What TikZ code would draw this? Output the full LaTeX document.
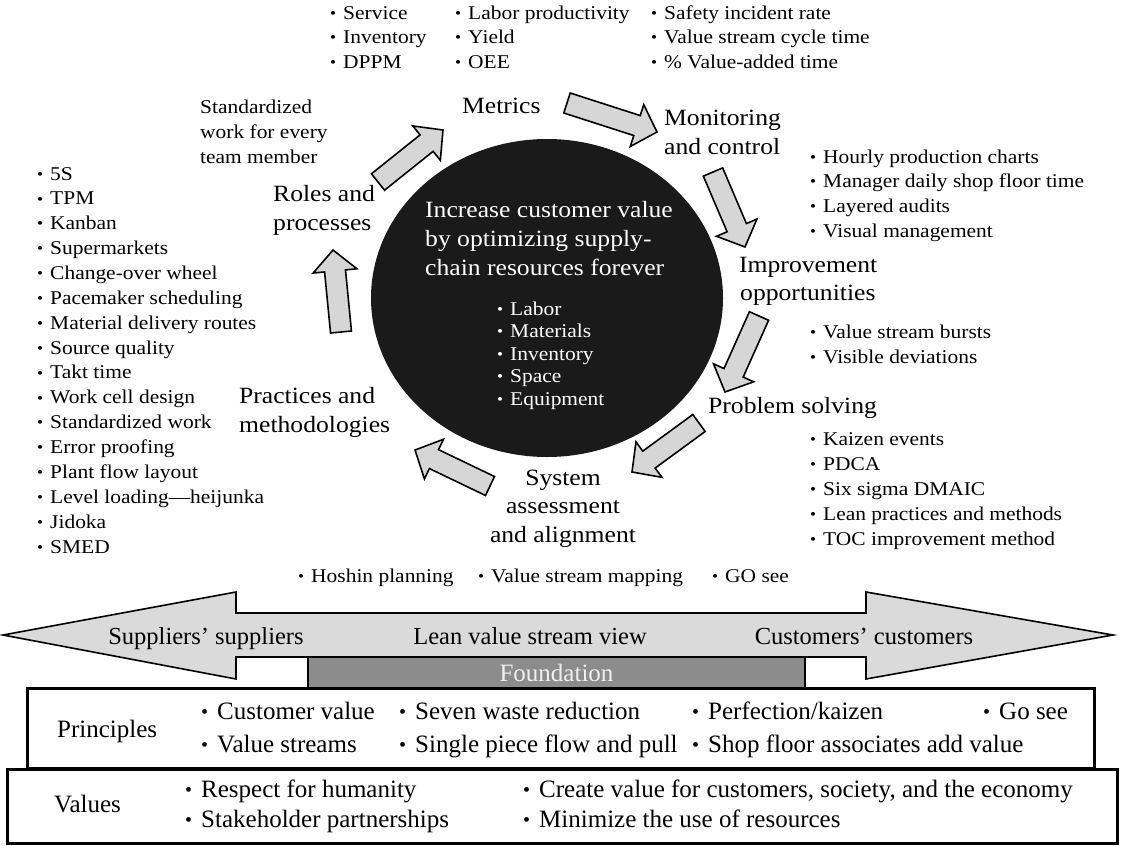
\documentclass[tikz,border=0pt]{standalone}
\usepackage{fontspec}
\usepackage{graphicx}
\setmainfont{Liberation Serif}[FakeStretch=1.1]
\newfontfamily\condfont{Liberation Serif}
\usetikzlibrary{shapes.geometric}
\definecolor{arrowgray}{HTML}{D6D6D6}
\definecolor{bandgray}{HTML}{DADADA}
\definecolor{foundgray}{HTML}{8C8C8C}
\definecolor{corefill}{HTML}{1A1A1A}
\newcommand\bul{\raisebox{0.04em}{\scalebox{0.8}{•}}\hspace{0.36em}}
\newcommand\blkarrow[4]{%
  \pgfmathsetmacro\baDx{#3-#1}%
  \pgfmathsetmacro\baDy{#4-#2}%
  \pgfmathsetmacro\baAng{-atan2(\baDy,\baDx)}%
  \pgfmathsetmacro\baLen{veclen(\baDx,\baDy)}%
  \pgfmathsetmacro\baHb{\baLen-21}%
  \draw[blk, shift={(#1,#2)}, rotate=\baAng]
    (0,10.5) -- (\baHb,10.5) -- (\baHb,22) -- (\baLen,0) -- (\baHb,-22) -- (\baHb,-10.5) -- (0,-10.5) -- cycle;}
\tikzset{
  lab/.style={anchor=base west, inner sep=0pt, font=\fontsize{23.3}{29}\selectfont},
  labc/.style={anchor=base, inner sep=0pt, font=\fontsize{23.3}{29}\selectfont},
  itm/.style={anchor=base west, inner sep=0pt, font=\fontsize{19.5}{24}\selectfont},
  citm/.style={anchor=base west, inner sep=0pt, text=white, font=\fontsize{19.5}{24}\selectfont},
  bitm/.style={anchor=base west, inner sep=0pt, font=\condfont\fontsize{25}{30}\selectfont},
  bitmc/.style={anchor=base, inner sep=0pt, font=\condfont\fontsize{24.5}{30}\selectfont},
  blk/.style={draw=black, line width=1.6pt, fill=arrowgray, line join=miter},
  band/.style={draw=black, line width=1.6pt, fill=bandgray, line join=miter},
  frame/.style={draw=black, line width=3pt},
}
\begin{document}
\begin{tikzpicture}[x=1pt,y=-1pt]
\useasboundingbox (0,0) rectangle (1122,846);
% core
\node[ellipse, fill=corefill, minimum width=352pt, minimum height=318pt, inner sep=0pt] (core) at (547,298) {};
\node[lab, text=white] (c1) at (425,217) {Increase customer value};
\node[lab, text=white] (c2) at (425,246) {by optimizing supply-};
\node[lab, text=white] (c3) at (425,275) {chain resources forever};
\foreach \t [count=\i] in {Labor, Materials, Inventory, Space, Equipment}
  \node[citm] (cr\i) at (497,{315+22.5*(\i-1)}) {\bul\t};
% block arrows
\blkarrow{378}{182}{443}{130}
\blkarrow{567}{103}{657}{132}
\blkarrow{713}{172}{745}{247}
\blkarrow{759}{316}{725}{392}
\blkarrow{699}{423}{632}{472}
\blkarrow{490}{486}{415}{450}
\blkarrow{341}{332}{333}{250}
% stage labels
\node[lab] (metrics) at (462,113) {Metrics};
\node[lab] (mon1) at (664,125) {Monitoring};
\node[lab] (mon2) at (664,154) {and control};
\node[lab] (imp1) at (739,272) {Improvement};
\node[lab] (imp2) at (740,300) {opportunities};
\node[lab] (prob) at (708,413) {Problem solving};
\node[labc] (sys1) at (563,485) {System};
\node[labc] (sys2) at (563,513) {assessment};
\node[labc] (sys3) at (563,542) {and alignment};
\node[lab] (prac1) at (239,403) {Practices and};
\node[lab] (prac2) at (239,432) {methodologies};
\node[lab] (roles1) at (273,201) {Roles and};
\node[lab] (roles2) at (273,230) {processes};
% metrics lists
\foreach \t [count=\i] in {Service, Inventory, DPPM}
  \node[itm] (ma\i) at (330,{19+24.5*(\i-1)}) {\bul\t};
\foreach \t [count=\i] in {Labor productivity, Yield, OEE}
  \node[itm] (mb\i) at (455,{19+24.5*(\i-1)}) {\bul\t};
\foreach \t [count=\i] in {Safety incident rate, Value stream cycle time, \% Value-added time}
  \node[itm] (mc\i) at (651,{19+24.5*(\i-1)}) {\bul\t};
% roles note
\node[itm] (sw1) at (200,113) {Standardized};
\node[itm] (sw2) at (200,138) {work for every};
\node[itm] (sw3) at (200,163) {team member};
% monitoring list
\foreach \t [count=\i] in {Hourly production charts, Manager daily shop floor time, Layered audits, Visual management}
  \node[itm] (mo\i) at (810,{163+24.7*(\i-1)}) {\bul\t};
% improvement list
\foreach \t [count=\i] in {Value stream bursts, Visible deviations}
  \node[itm] (io\i) at (810,{338+25*(\i-1)}) {\bul\t};
% problem list
\foreach \t [count=\i] in {Kaizen events, PDCA, Six sigma DMAIC, Lean practices and methods, TOC improvement method}
  \node[itm] (ps\i) at (810,{445+25*(\i-1)}) {\bul\t};
% practices list
\foreach \t [count=\i] in {5S, TPM, Kanban, Supermarkets, Change-over wheel, Pacemaker scheduling, Material delivery routes, Source quality, Takt time, Work cell design, Standardized work, Error proofing, Plant flow layout, Level loading—heijunka, Jidoka, SMED}
  \node[itm] (pm\i) at (37,{180+24.87*(\i-1)}) {\bul\t};
% system list
\node[itm] (sa1) at (298,582) {\bul Hoshin planning};
\node[itm] (sa2) at (478,582) {\bul Value stream mapping};
\node[itm] (sa3) at (712,582) {\bul GO see};
% value stream band
\draw[band] (3,635) -- (236,592) -- (236,613) -- (866,613) -- (866,592) -- (1113,635) -- (866,679) -- (866,657) -- (236,657) -- (236,679) -- cycle;
\node[bitmc] (sup) at (206,644) {Suppliers’ suppliers};
\node[bitmc] (lean) at (530,644) {Lean value stream view};
\node[bitmc] (cus) at (864,644) {Customers’ customers};
% principles and values boxes
\draw[frame] (27,688) rectangle (1094,768);
\draw[frame] (7,769) rectangle (1117,843);
\node[draw=black, line width=1.5pt, fill=foundgray, minimum width=497pt, minimum height=31pt, inner sep=0pt, text=white!94!black, font=\condfont\fontsize{25}{30}\selectfont] (found) at (556.5,672.5) {Foundation};
\node[bitm] (prin) at (57,737) {Principles};
\node[bitm] (p1) at (201,719) {\bul Customer value};
\node[bitm] (p2) at (399,719) {\bul Seven waste reduction};
\node[bitm] (p3) at (692,719) {\bul Perfection/kaizen};
\node[bitm] (p4) at (983,719) {\bul Go see};
\node[bitm] (p5) at (201,752) {\bul Value streams};
\node[bitm] (p6) at (399,752) {\bul Single piece flow and pull};
\node[bitm] (p7) at (692,752) {\bul Shop floor associates add value};
\node[bitm] (val) at (54,812) {Values};
\node[bitm] (v1) at (185,797) {\bul Respect for humanity};
\node[bitm] (v2) at (523,797) {\bul Create value for customers, society, and the economy};
\node[bitm] (v3) at (185,827) {\bul Stakeholder partnerships};
\node[bitm] (v4) at (523,827) {\bul Minimize the use of resources};
\end{tikzpicture}
\end{document}
